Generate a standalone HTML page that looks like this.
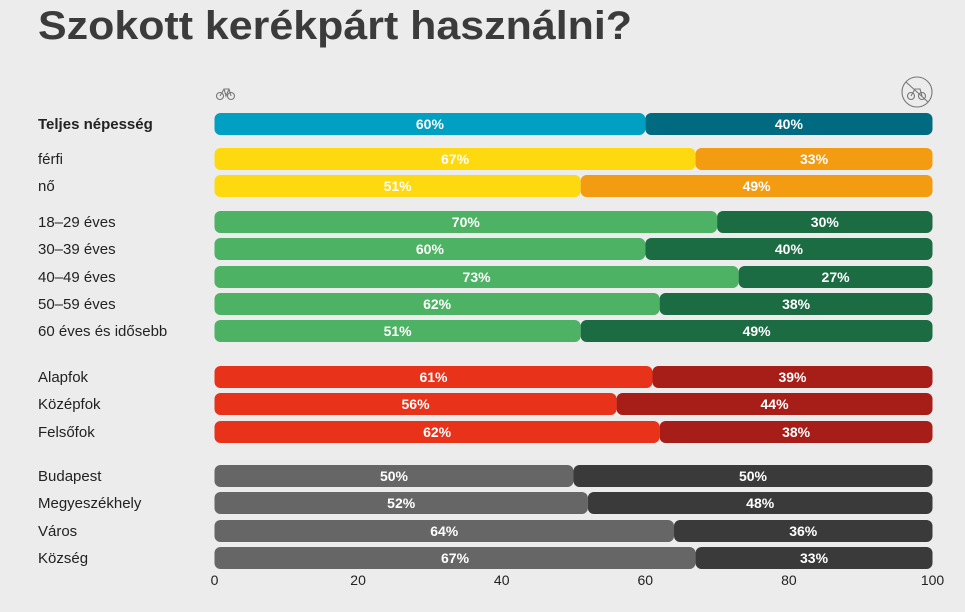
<!DOCTYPE html>
<html><head><meta charset="utf-8"><style>
body{margin:0;background:#ececec;width:965px;height:607px;overflow:hidden;font-family:"Liberation Sans",sans-serif}
</style></head><body>
<svg width="965" height="607">
<text x="38" y="39" font-size="40" font-weight="bold" fill="#3b3b3b" textLength="594" lengthAdjust="spacingAndGlyphs">Szokott kerékpárt használni?</text>
<g stroke="#777" fill="none" stroke-width="1.1">
<circle cx="220" cy="96" r="3.5"/><circle cx="231" cy="96" r="3.5"/><path d="M220 96 L224 89 L229 89 L231 96 M224 89 L226 96 L229 89"/></g>
<g stroke="#777" fill="none" stroke-width="1.1">
<circle cx="917" cy="92" r="15"/><circle cx="911" cy="96" r="3.5"/><circle cx="922" cy="96" r="3.5"/><path d="M911 96 L915 89 L920 89 L922 96 M906 82 L928 102"/></g>
<g id="g"></g>
</svg>
<script>
const labels=["Teljes népesség","férfi","nő","18–29 éves","30–39 éves","40–49 éves","50–59 éves","60 éves és idősebb","Alapfok","Középfok","Felsőfok","Budapest","Megyeszékhely","Város","Község"];
const yesValues=[60,67,51,70,60,73,62,51,61,56,62,50,52,64,67];
const noValues=[40,33,49,30,40,27,38,49,39,44,38,50,48,36,33];
const ticks=[0,20,40,60,80,100];
const rowCenters=[124,159,186,222,249,277,304,331,377,404,432,476,503,531,558];
const colorsYes=["#00a0c2","#ffd90f","#ffd90f","#4db263","#4db263","#4db263","#4db263","#4db263","#e8321a","#e8321a","#e8321a","#666666","#666666","#666666","#666666"];
const colorsNo=["#006b80","#f39c12","#f39c12","#1b6c43","#1b6c43","#1b6c43","#1b6c43","#1b6c43","#a71d18","#a71d18","#a71d18","#3a3a3a","#3a3a3a","#3a3a3a","#3a3a3a"];
const X0=214.5,X1=932.5,H=22;
const x=v=>X0+(X1-X0)*v/100;
const g=document.getElementById('g');const NS="http://www.w3.org/2000/svg";
function mk(t,a){const e=document.createElementNS(NS,t);for(const k in a)e.setAttribute(k,a[k]);g.appendChild(e);return e;}
labels.forEach((l,i)=>{
 const cy=rowCenters[i];
 const t=mk('text',{x:38,y:cy+5,'font-size':15,fill:'#222','font-weight':i==0?'bold':'normal'});t.textContent=l;
 
 
 const a=mk('rect',{x:x(0),y:cy-H/2,width:x(yesValues[i])-x(0),height:H,rx:6,fill:colorsYes[i]});
 
 
 const b=mk('rect',{x:x(yesValues[i]),y:cy-H/2,width:x(yesValues[i]+noValues[i])-x(yesValues[i]),height:H,rx:6,fill:colorsNo[i]});
 
 
 const ta=mk('text',{x:(x(0)+x(yesValues[i]))/2,y:cy+5,'font-size':14,'font-weight':'bold',fill:'#fff','text-anchor':'middle'});ta.textContent=yesValues[i]+'%';
 
 
 const tb=mk('text',{x:(x(yesValues[i])+x(yesValues[i]+noValues[i]))/2,y:cy+5,'font-size':14,'font-weight':'bold',fill:'#fff','text-anchor':'middle'});tb.textContent=noValues[i]+'%';
 
 
});
ticks.forEach(v=>{const t=mk('text',{x:x(v),y:585,'font-size':14,fill:'#222','text-anchor':'middle'});t.textContent=v;
 
 });
</script>
</body></html>
